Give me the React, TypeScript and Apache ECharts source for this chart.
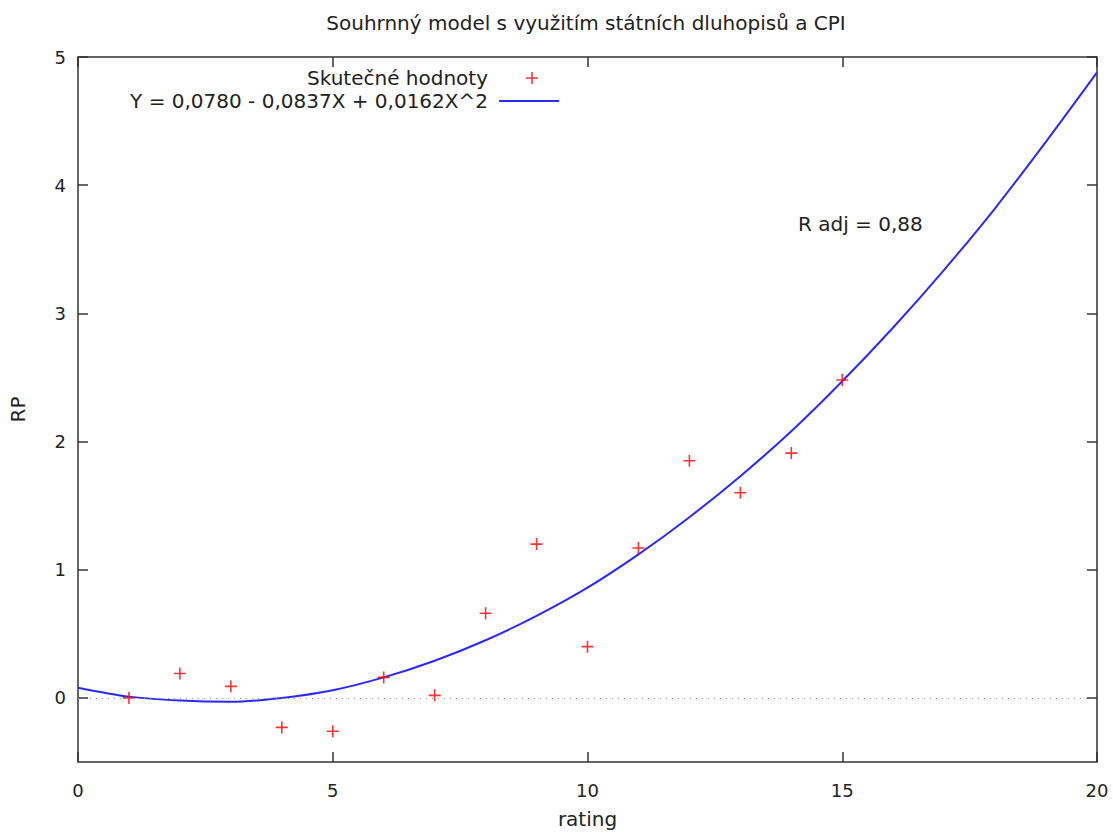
import React, { useEffect, useRef } from "react";
import * as echarts from "echarts";

const titleText = "Souhrnný model s využitím státních dluhopisů a CPI";
const xName = "rating";
const yName = "RP";
const scatterName = "Skutečné hodnoty";
const curveName = "Y = 0,0780 - 0,0837X + 0,0162X^2";
const rAdjText = "R adj = 0,88";

const ratings = [1, 2, 3, 4, 5, 6, 7, 8, 9, 10, 11, 12, 13, 14, 15];
const rpValues = [0.0, 0.19, 0.09, -0.23, -0.26, 0.16, 0.02, 0.66, 1.2, 0.4, 1.17, 1.85, 1.6, 1.91, 2.48];

const curveX = [0, 1, 2, 3, 4, 5, 6, 7, 8, 9, 10, 11, 12, 13, 14, 15, 16, 17, 18, 19, 20];
const curveY = [0.08, 0.01, -0.02, -0.03, 0.0, 0.06, 0.16, 0.29, 0.45, 0.64, 0.86, 1.12, 1.41, 1.73, 2.08, 2.47, 2.89, 3.34, 3.82, 4.34, 4.88];

const xTicks = [0, 5, 10, 15, 20];
const yTicks = [0, 1, 2, 3, 4, 5];

const FONT = "DejaVu Sans";
const TXT = "#222";
const AX = "#333";
const BLUE = "#2a2aff";
const PLUS = "path://M5.2,0H6.8V5.2H12V6.8H6.8V12H5.2V6.8H0V5.2H5.2Z";

export default function App() {
  const ref = useRef<HTMLDivElement>(null);
  useEffect(() => {
    if (!ref.current) return;
    const chart = echarts.init(ref.current, undefined, { renderer: "svg" });
    const tick = { show: true, inside: true, length: 10, lineStyle: { color: AX, width: 1.5 } };
    const hiddenLine = { show: false, onZero: false };
    chart.setOption({
      animation: false,
      backgroundColor: "#fff",
      textStyle: { fontFamily: FONT, color: TXT },
      title: {
        text: titleText,
        left: 586,
        textAlign: "center",
        top: 13,
        padding: 0,
        textStyle: { fontFamily: FONT, fontSize: 20, fontWeight: "normal", color: TXT },
      },
      legend: [
        {
          data: [scatterName],
          orient: "vertical",
          align: "right",
          right: 575,
          top: 68,
          padding: 0,
          itemWidth: 60,
          itemHeight: 12,
          textStyle: { fontFamily: FONT, fontSize: 20, color: TXT, padding: [0, 9, 0, 0] },
        },
        {
          data: [{ name: curveName, icon: "rect" }],
          orient: "vertical",
          align: "right",
          right: 554,
          top: 91,
          padding: 0,
          itemWidth: 60,
          itemHeight: 2,
          textStyle: { fontFamily: FONT, fontSize: 20, color: TXT, padding: [0, 6, 0, 0] },
        },
      ],
      grid: {
        left: 78,
        right: 16,
        top: 57,
        bottom: 68,
        show: true,
        borderColor: AX,
        borderWidth: 1.5,
        backgroundColor: "transparent",
      },
      xAxis: [
        {
          type: "value",
          min: 0,
          max: 20,
          interval: 5,
          position: "bottom",
          axisLine: hiddenLine,
          axisTick: { ...tick, customValues: xTicks },
          axisLabel: { customValues: xTicks, margin: 19, fontFamily: FONT, fontSize: 18, color: TXT },
          splitLine: { show: false },
          name: xName,
          nameLocation: "middle",
          nameGap: 47,
          nameTextStyle: { fontFamily: FONT, fontSize: 20, color: TXT },
        },
        {
          type: "value",
          min: 0,
          max: 20,
          interval: 5,
          position: "top",
          axisLine: hiddenLine,
          axisTick: { ...tick, customValues: xTicks },
          axisLabel: { show: false },
          splitLine: { show: false },
        },
      ],
      yAxis: [
        {
          type: "value",
          min: -0.5,
          max: 5,
          position: "left",
          axisLine: hiddenLine,
          axisTick: { ...tick, customValues: yTicks },
          axisLabel: { customValues: yTicks, margin: 12, fontFamily: FONT, fontSize: 18, color: TXT },
          splitLine: { show: false },
          name: yName,
          nameLocation: "middle",
          nameGap: 50,
          nameRotate: 90,
          nameTextStyle: { fontFamily: FONT, fontSize: 20, color: TXT },
        },
        {
          type: "value",
          min: -0.5,
          max: 5,
          position: "right",
          axisLine: hiddenLine,
          axisTick: { ...tick, customValues: yTicks },
          axisLabel: { show: false },
          splitLine: { show: false },
        },
      ],
      series: [
        {
          name: scatterName,
          type: "scatter",
          data: ratings.map((x, i) => [x, rpValues[i]]),
          symbol: PLUS,
          symbolSize: 12,
          itemStyle: { color: "#ff0000" },
          z: 3,
          markLine: {
            silent: true,
            symbol: "none",
            label: { show: false },
            lineStyle: { color: "#999", type: [1, 5], width: 1.2 },
            data: [{ yAxis: 0 }],
          },
        },
        {
          name: curveName,
          type: "line",
          data: curveX.map((x, i) => [x, curveY[i]]),
          symbol: "none",
          smooth: 0.3,
          lineStyle: { color: BLUE, width: 2 },
          itemStyle: { color: BLUE },
          z: 2,
        },
      ],
      graphic: [
        {
          type: "text",
          left: 798,
          top: 214,
          style: { text: rAdjText, fontFamily: FONT, fontSize: 20, fill: TXT },
        },
      ],
    });
    return () => chart.dispose();
  }, []);
  return <div ref={ref} style={{ position: "fixed", left: 0, top: 0, width: 1113, height: 834 }} />;
}
